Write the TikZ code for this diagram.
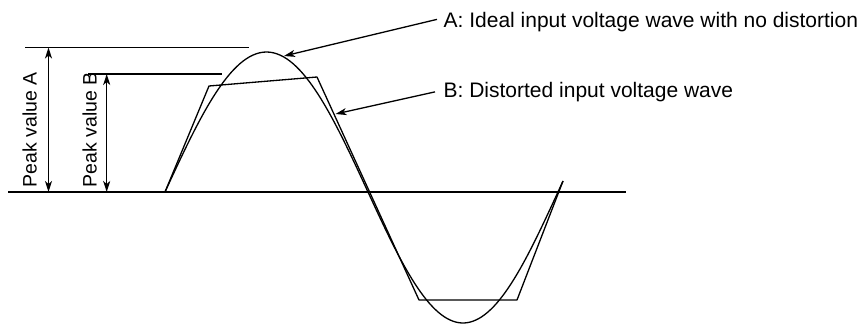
\documentclass[tikz,border=0pt]{standalone}
\usepackage{fontspec}
\setmainfont{Liberation Sans}
\usetikzlibrary{arrows.meta,calc,positioning}
\tikzset{
  note/.style={anchor=base west,inner sep=0pt,font=\fontsize{21}{25}\selectfont},
  peaklbl/.style={rotate=90,anchor=base west,inner sep=0pt,font=\fontsize{19.5}{23}\selectfont},
  wave/.style={line width=1.3pt,line join=round}
}

\begin{document}
\begin{tikzpicture}[x=1pt,y=-1pt,>={Stealth[length=11pt,width=7pt,inset=3pt]},line width=1.3pt]
  \useasboundingbox (0,0) rectangle (865,324);
  % zero line and peak levels
  \draw (8,192) -- (626,192);
  \draw (25,47.5) -- (249,47.5);
  \draw (88,74) -- (222,74);
  % peak values
  \coordinate (topA) at (48.5,47.5);
  \coordinate (botA) at (48.5,192);
  \coordinate (topB) at (106.7,74);
  \coordinate (botB) at (106.7,192);
  \draw[<->] (topA) -- (botA);
  \draw[<->] (topB) -- (botB);
  \node[peaklbl] (lblA) at (36.7,188) {Peak value A};
  \node[peaklbl] (lblB) at (96.7,188) {Peak value B};
  % ideal wave A
  \draw[wave] (165,192) sin (266.5,52) cos (368,192) sin (463,323) cos (558,192) -- (563,181);
  % distorted wave B
  \draw[wave] (165,192) -- (209,86) -- (317,77) -- (419,300) -- (517,300) -- (563,181);
  % leaders
  \coordinate (tipA) at (284,56);
  \coordinate (tipB) at (335.5,114);
  \node[note] (txtA) at (443,27.3) {A: Ideal input voltage wave with no distortion};
  \node[note] (txtB) at (443,97.3) {B: Distorted input voltage wave};
  \draw[->] ([xshift=-6pt,yshift=2.5pt]txtA.west) -- (tipA);
  \draw[->] ([xshift=-8pt]txtB.west) -- (tipB);
\end{tikzpicture}
\end{document}
